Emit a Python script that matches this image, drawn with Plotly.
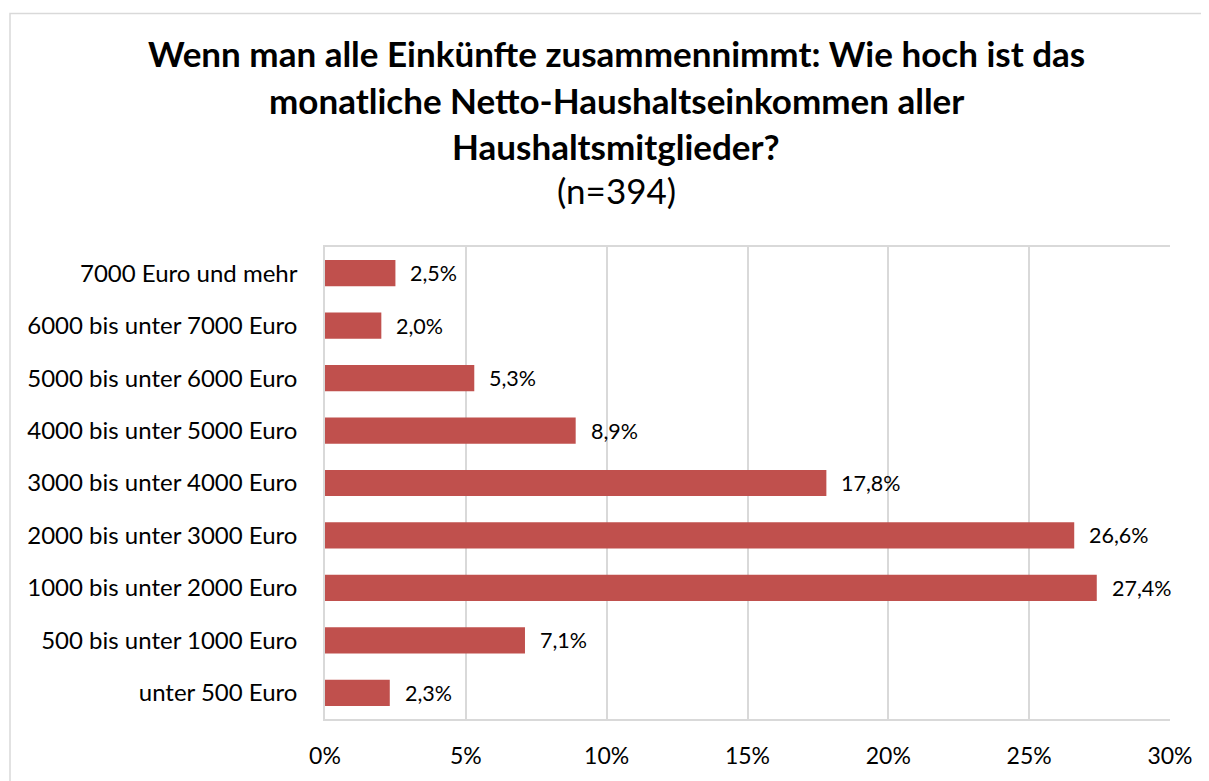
import plotly.graph_objects as go

categories = [
    "7000 Euro und mehr",
    "6000 bis unter 7000 Euro",
    "5000 bis unter 6000 Euro",
    "4000 bis unter 5000 Euro",
    "3000 bis unter 4000 Euro",
    "2000 bis unter 3000 Euro",
    "1000 bis unter 2000 Euro",
    "500 bis unter 1000 Euro",
    "unter 500 Euro",
]
values = [2.5, 2.0, 5.3, 8.9, 17.8, 26.6, 27.4, 7.1, 2.3]
x_ticks = [0, 5, 10, 15, 20, 25, 30]
x_tick_labels = ["0%", "5%", "10%", "15%", "20%", "25%", "30%"]
title_lines = [
    "<b>Wenn man alle Einkünfte zusammennimmt: Wie hoch ist das</b>",
    "<b>monatliche Netto-Haushaltseinkommen aller</b>",
    "<b>Haushaltsmitglieder?</b>",
    "(n=394)",
]

FONT = "Lato"
OFF = 8  # default page body margin
W, H = 1209 - OFF, 781 - OFF
# target page-pixel positions of the plot area
L, R, T, B = 325 - OFF, 1170 - OFF, 247 - OFF, 722 - OFF

fig = go.Figure()
fig.add_trace(go.Bar(
    x=values, y=categories, orientation="h",
    marker=dict(color="#c0504d", line=dict(width=0)),
    hoverinfo="skip",
))

for c, v in zip(categories, values):
    fig.add_annotation(
        x=v, y=c, xref="x", yref="y", text=f"{v:.1f}%".replace(".", ","),
        showarrow=False, xanchor="left", yanchor="middle", xshift=13,
        font=dict(family=FONT, size=21.5, color="#000000"),
    )

pw, ph = R - L, B - T
def px_x(p):
    return (p - OFF - L) / pw
def px_y(p):
    return (B - (p - OFF)) / ph

title_y = [52, 99, 145, 190]
for t, yy in zip(title_lines, title_y):
    fig.add_annotation(
        x=px_x(616), y=px_y(yy), xref="paper", yref="paper", text=t,
        showarrow=False, xanchor="center", yanchor="middle",
        font=dict(family=FONT, size=35, color="#000000"),
    )

fig.add_shape(
    type="rect", xref="paper", yref="paper",
    x0=px_x(10), x1=px_x(1260), y0=px_y(12), y1=px_y(840),
    line=dict(color="#d9d9d9", width=1.5), fillcolor="rgba(0,0,0,0)", layer="below",
)

fig.update_layout(
    width=W, height=H,
    margin=dict(l=L, r=W - R, t=T, b=H - B, pad=0),
    paper_bgcolor="white", plot_bgcolor="white",
    showlegend=False, bargap=0.5,
    font=dict(family=FONT, color="#000000"),
    xaxis=dict(
        range=[0, 30], tickvals=x_ticks, ticktext=x_tick_labels,
        showgrid=True, gridcolor="#d9d9d9", gridwidth=1.5,
        showline=True, linecolor="#d9d9d9", linewidth=1.5, mirror=True,
        zeroline=False, ticks="", ticklabelstandoff=16,
        tickfont=dict(family=FONT, size=23, color="#000000"),
        fixedrange=True,
    ),
    yaxis=dict(
        autorange="reversed", showgrid=False,
        showline=True, linecolor="#d9d9d9", linewidth=1.5,
        ticks="", ticklabelstandoff=21,
        tickfont=dict(family=FONT, size=24, color="#000000"),
        fixedrange=True,
    ),
)

fig.write_html("out.html")
